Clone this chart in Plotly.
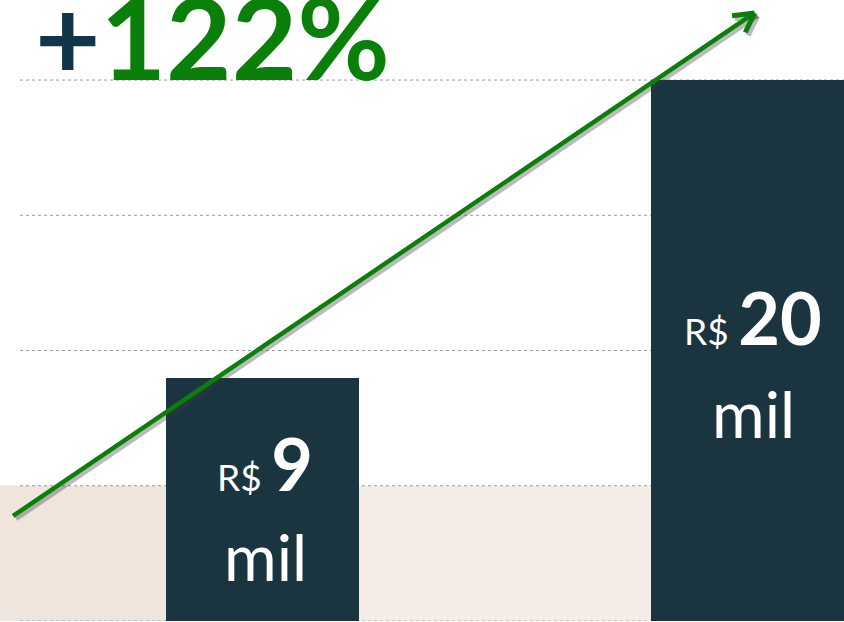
import plotly.graph_objects as go

categories = ["Antes", "Depois"]
values = [9, 20]
value_labels = ["9", "20"]
currency = "R$"
unit = "mil"
growth_label = "122%"
grid_values = [0, 5, 10, 15, 20]

BAR = "#1A3540"
GREEN = "#0A800A"
NAVY = "#12354A"
FONT = "Lato"

xpos = list(range(len(categories)))

fig = go.Figure()
fig.add_trace(go.Bar(
    x=xpos, y=values, width=0.398,
    marker=dict(color=BAR, line=dict(width=0)),
    hoverinfo="skip", showlegend=False,
))

shapes = []
# beige floor band below the first gridline
shapes.append(dict(type="rect", xref="paper", yref="y", x0=-0.03, x1=1.01,
                   y0=0, y1=grid_values[1], fillcolor="#F4ECE6",
                   line=dict(width=0), layer="below"))
shapes.append(dict(type="rect", xref="paper", yref="y", x0=-0.03, x1=0.2,
                   y0=0, y1=grid_values[1], fillcolor="#EFE5DD",
                   line=dict(width=0), layer="below"))
for g in grid_values:
    shapes.append(dict(type="line", xref="paper", yref="y", x0=0, x1=1,
                       y0=g, y1=g, line=dict(color="#9A9A9A", width=1, dash="dot"),
                       layer="below"))

annotations = []
# bar labels
line1_shift = [36, 34]
line2_shift = [-57, -63]
xshift = [3, 6]
for i, (v, lab) in enumerate(zip(values, value_labels)):
    annotations.append(dict(
        x=xpos[i], y=v / 2, xref="x", yref="y", showarrow=False,
        xshift=xshift[i], yshift=line1_shift[i],
        text=f"<span style='font-size:37px'>{currency} </span><b>{lab}</b>",
        font=dict(family=FONT, size=72, color="white"),
    ))
    annotations.append(dict(
        x=xpos[i], y=v / 2, xref="x", yref="y", showarrow=False,
        xshift=xshift[i], yshift=line2_shift[i],
        text=unit, font=dict(family=FONT, size=64, color="white"),
    ))

# growth arrow (head in data coordinates, tail in pixels)
head_x, head_y = 1.0155, 22.48
tail_ax, tail_ay = -743, 504
for dx, dy, col in [(3, -3, "rgba(60,60,60,0.35)"), (0, 0, GREEN)]:
    annotations.append(dict(
        x=head_x, y=head_y, xref="x", yref="y", text="", showarrow=True,
        ax=tail_ax, ay=tail_ay, arrowhead=0, arrowwidth=4.5, arrowcolor=col,
        xshift=dx, yshift=dy, standoff=0, startstandoff=0,
    ))
    for ax_, ay_ in [(-24, 3), (-10, 21)]:
        annotations.append(dict(
            x=head_x, y=head_y, xref="x", yref="y", text="", showarrow=True,
            ax=ax_, ay=ay_, arrowhead=0, arrowwidth=5, arrowcolor=col,
            xshift=dx, yshift=dy, standoff=0, startstandoff=0,
        ))

# headline
annotations.append(dict(
    x=0.016, y=grid_values[-1], xref="paper", yref="y", xanchor="left",
    yanchor="bottom", yshift=-26, showarrow=False,
    text=f"<span style='color:{NAVY}'>+</span>{growth_label}",
    font=dict(family=FONT, size=113, color=GREEN, weight="bold"),
))

fig.update_layout(
    width=844, height=622,
    margin=dict(l=20, r=0, t=0, b=1),
    paper_bgcolor="white", plot_bgcolor="rgba(0,0,0,0)",
    xaxis=dict(range=[-0.5, 1.2], visible=False, fixedrange=True),
    yaxis=dict(range=[0, 22.96], visible=False, fixedrange=True),
    shapes=shapes, annotations=annotations,
    bargap=0,
)

fig.write_html("out.html", config={"displayModeBar": False},
               post_script="document.body.style.margin='0';document.body.style.overflow='hidden';")
